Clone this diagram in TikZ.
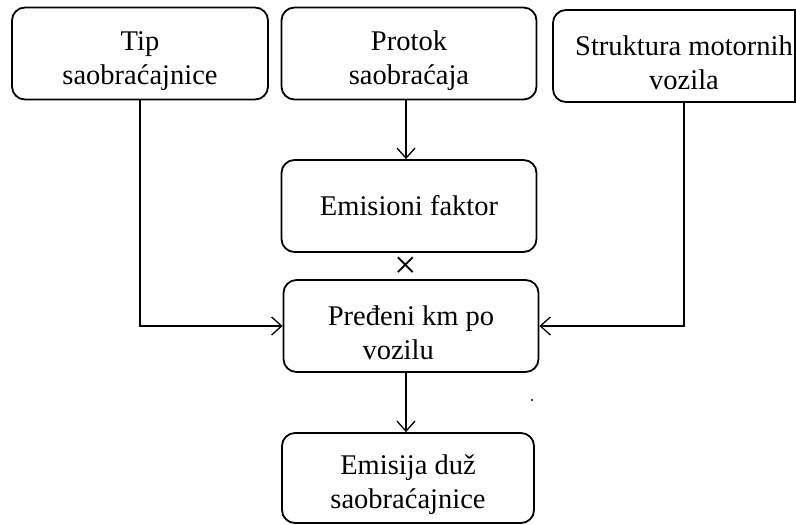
\documentclass[tikz,border=0pt]{standalone}
\usepackage{fontspec}
\setmainfont{Liberation Serif}
\usetikzlibrary{arrows.meta}
\newcommand{\topstrut}{\rule{0pt}{34pt}}
\tikzset{
  flowbox/.style={draw, line width=1.8pt, rounded corners=13pt,
    minimum width=255pt, minimum height=92pt, align=center,
    inner sep=0pt, font=\fontsize{28.5}{34}\selectfont},
  flowarrow/.style={line width=1.8pt,
    -{Straight Barb[length=10pt, width=18pt, line width=1.3pt]}}
}
\begin{document}
\begin{tikzpicture}[x=1pt, y=-1pt]
  \useasboundingbox (0,0) rectangle (796,525);
  \clip (0,0) rectangle (796,525);
  \fill[white] (0,0) rectangle (796,525);

  % input boxes
  \node[flowbox, minimum width=256pt] (tip) at (140,53.5) {\topstrut Tip\\saobraćajnice};
  \node[flowbox] (protok) at (409,53.5) {\topstrut Protok\\saobraćaja};
  \node[flowbox, minimum width=262pt] (struktura) at (684,56) {\topstrut Struktura motornih\\vozila};
  % the third box is cut at the page edge
  \draw[line width=1.8pt] (struktura.north -| 795,0) -- (struktura.south -| 795,0);

  % middle column
  \node[flowbox] (faktor) at (409,206) {Emisioni faktor};
  \node[flowbox] (km) at (411,326) {\topstrut Pređeni km po\\vozilu\hspace*{0.9em}};
  \node[flowbox, minimum width=252pt, minimum height=90pt] (emisija) at (408,478) {\topstrut Emisija duž\\saobraćajnice};

  % multiplication sign between factor and distance
  \node[font=\fontsize{40}{40}\selectfont, inner sep=0pt] (puta) at (406,268) {×};

  % stray dot
  \fill (532,400) circle (1.1pt);

  % connectors
  \draw[flowarrow] (protok.south -| 406,0) -- (faktor.north -| 406,0);
  \draw[flowarrow] (tip.south) |- (km.west);
  \draw[flowarrow] (struktura.south) |- (km.east);
  \draw[flowarrow] (km.south -| 406,0) -- (emisija.north -| 406,0);
\end{tikzpicture}
\end{document}
